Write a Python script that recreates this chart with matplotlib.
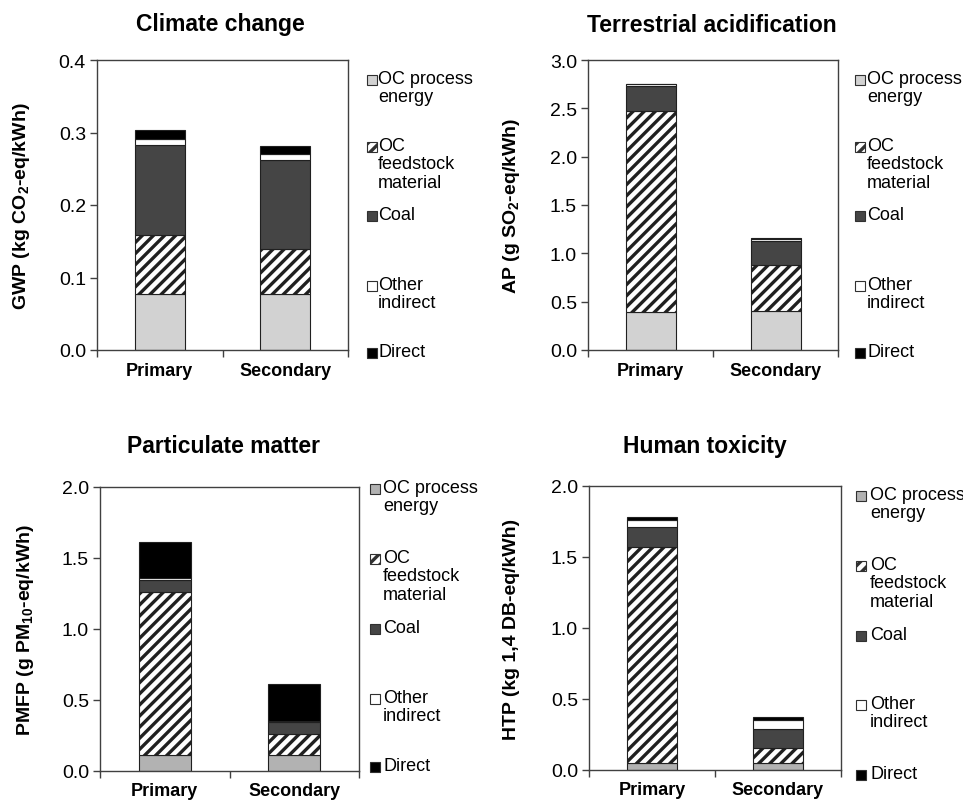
import matplotlib
matplotlib.use('Agg')
import matplotlib.pyplot as plt
from matplotlib.patches import Rectangle
import numpy as np

plt.rcParams['font.family'] = ['Liberation Sans', 'DejaVu Sans']
plt.rcParams['mathtext.fontset'] = 'custom'
plt.rcParams['mathtext.rm'] = 'Liberation Sans'
plt.rcParams['mathtext.bf'] = 'Liberation Sans:bold'
plt.rcParams['hatch.linewidth'] = 2.4

W, H = 963, 803

categories = ['Primary', 'Secondary']
components = ['OC process\nenergy', 'OC\nfeedstock\nmaterial', 'Coal', 'Other\nindirect', 'Direct']

# segment heights, order: OC process, OC feedstock, Coal, Other indirect, Direct
gwp_primary = [0.077, 0.082, 0.124, 0.008, 0.0125]
gwp_secondary = [0.077, 0.062, 0.123, 0.008, 0.012]
ap_primary = [0.393, 2.084, 0.250, 0.020, 0.005]
ap_secondary = [0.400, 0.475, 0.255, 0.020, 0.005]
pm_primary = [0.115, 1.143, 0.089, 0.010, 0.253]
pm_secondary = [0.115, 0.145, 0.083, 0.007, 0.263]
htp_primary = [0.049, 1.521, 0.141, 0.052, 0.021]
htp_secondary = [0.049, 0.104, 0.137, 0.064, 0.019]

panels = [
    dict(title='Climate change', ylabel=r'GWP (kg CO$_\mathbf{2}$-eq/kWh)',
         data=[gwp_primary, gwp_secondary], ymax=0.4, step=0.1, proc='#d2d2d2',
         box=(97, 348, 61, 351), tpos=(220, 25), ylx=22,
         leg=[0.931, 0.70, 0.462, 0.221, -0.01], lx=(19, 30)),
    dict(title='Terrestrial acidification', ylabel=r'AP (g SO$_\mathbf{2}$-eq/kWh)',
         data=[ap_primary, ap_secondary], ymax=3.0, step=0.5, proc='#d2d2d2',
         box=(588, 838, 61, 351), tpos=(712, 25), ylx=512,
         leg=[0.931, 0.70, 0.462, 0.221, -0.01], lx=(17, 29)),
    dict(title='Particulate matter', ylabel=r'PMFP (g PM$_\mathbf{10}$-eq/kWh)',
         data=[pm_primary, pm_secondary], ymax=2.0, step=0.5, proc='#b2b2b2',
         box=(100, 359, 488, 772), tpos=(223, 447), ylx=25,
         leg=[0.993, 0.746, 0.5, 0.254, 0.014], lx=(11, 24)),
    dict(title='Human toxicity', ylabel='HTP (kg 1,4 DB-eq/kWh)',
         data=[htp_primary, htp_secondary], ymax=2.0, step=0.5, proc='#b2b2b2',
         box=(589, 841, 487, 771), tpos=(705, 447), ylx=512,
         leg=[0.965, 0.718, 0.472, 0.229, -0.018], lx=(15, 29)),
]

fig = plt.figure(figsize=(W / 100, H / 100), dpi=100)

for p in panels:
    l, r, t, b = p['box']
    ax = fig.add_axes([l / W, 1 - b / H, (r - l) / W, (b - t) / H])
    colors = [p['proc'], 'white', '#454545', 'white', 'black']
    hatches = [None, '///', None, None, None]
    x = np.arange(len(categories))
    vals = np.array(p['data']).T
    bottom = np.zeros(len(categories))
    for i in range(len(components)):
        ax.bar(x, vals[i], 0.4, bottom=bottom, color=colors[i], hatch=hatches[i],
               edgecolor='#202020', linewidth=0.8)
        bottom += vals[i]
    ax.set_xlim(-0.5, 1.5)
    ax.set_ylim(0, p['ymax'])
    ticks = np.arange(0, p['ymax'] + 1e-9, p['step'])
    ax.set_yticks(ticks)
    ax.set_yticklabels(['%.1f' % v for v in ticks])
    ax.set_xticks([-0.5, 0.5, 1.5])
    ax.set_xticklabels([])
    for j, c in enumerate(categories):
        ax.text(x[j], -0.07, c, transform=ax.get_xaxis_transform(), ha='center', va='center',
                fontsize=13, fontweight='bold')
    ax.tick_params(axis='both', direction='out', length=5, width=1, color='#404040',
                   labelsize=14, pad=3)
    for s in ax.spines.values():
        s.set_color('#404040')
        s.set_linewidth(1)
    fig.text(p['tpos'][0] / W, 1 - p['tpos'][1] / H, p['title'], ha='center', va='center',
             fontsize=16.5, fontweight='bold')
    fig.text(p['ylx'] / W, 1 - (t + b) / 2 / H, p['ylabel'], rotation=90, ha='center',
             va='center', fontsize=14, fontweight='bold')
    # legend, laid out like the original spreadsheet chart
    mx, tx = p['lx']
    for i, name in enumerate(components):
        ypx = b - p['leg'][i] * (b - t)
        sq = Rectangle(((r + mx) / W, 1 - (ypx + 5) / H), 10 / W, 10 / H,
                       transform=fig.transFigure, facecolor=colors[i], hatch=hatches[i],
                       edgecolor='#303030', linewidth=0.8)
        fig.add_artist(sq)
        fig.text((r + tx) / W, 1 - (ypx - 10) / H, name, ha='left', va='top',
                 fontsize=13, linespacing=1.1)

fig.savefig('out.png', dpi=100)
